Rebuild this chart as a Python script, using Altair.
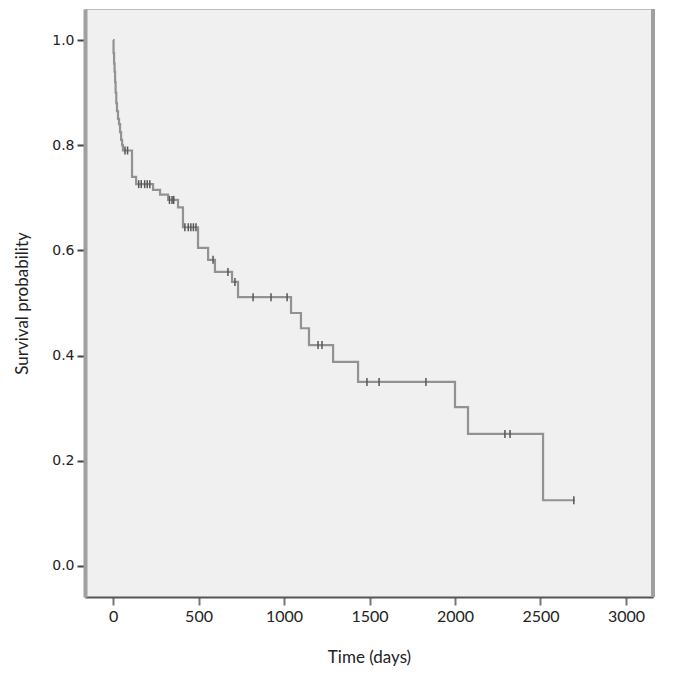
import altair as alt
import pandas as pd

# Kaplan-Meier step curve (time in days, survival probability)
times = [0, 3, 6, 9, 12, 15, 19, 23, 29, 35, 41, 47, 53, 58, 111, 135, 234, 275, 322,
         380, 409, 497, 556, 596, 696, 731, 1041, 1099, 1146, 1287, 1433, 2000, 2076,
         2515, 2700]
surv = [1.0, 0.975, 0.955, 0.94, 0.92, 0.90, 0.88, 0.865, 0.85, 0.84, 0.825, 0.81, 0.80,
        0.79, 0.74, 0.726, 0.715, 0.706, 0.696, 0.682, 0.644, 0.605, 0.582, 0.559, 0.540,
        0.511, 0.481, 0.452, 0.420, 0.388, 0.350, 0.302, 0.251, 0.125, 0.125]

# Censored observations
cens_t = [70, 85, 150, 165, 185, 200, 215, 330, 345, 355, 420, 440, 455, 470, 485,
          585, 672, 713, 819, 924, 1018, 1199, 1222, 1485, 1556, 1830, 2292, 2322, 2695]
cens_s = [0.79, 0.79, 0.726, 0.726, 0.726, 0.726, 0.726, 0.696, 0.696, 0.696, 0.644,
          0.644, 0.644, 0.644, 0.644, 0.582, 0.559, 0.540, 0.511, 0.511, 0.511, 0.420,
          0.420, 0.350, 0.350, 0.350, 0.251, 0.251, 0.125]

x_ticks = [0, 500, 1000, 1500, 2000, 2500, 3000]
y_ticks = [0.0, 0.2, 0.4, 0.6, 0.8, 1.0]

W, H = 568, 588

curve = pd.DataFrame({"t": times, "s": surv})
cens = pd.DataFrame({"t": cens_t, "s": cens_s})

xs = alt.Scale(domain=[-164, 3158], nice=False, zero=False)
ys = alt.Scale(domain=[-0.059, 1.059], nice=False, zero=False)

font = "Lato"

xaxis = alt.Axis(values=x_ticks, format="d", title="Time (days)", grid=False,
                 domainColor="#555555", domainWidth=2,
                 tickColor="#777777", tickWidth=2, tickSize=8,
                 labelFont=font, labelFontSize=16, labelColor="#222222", labelPadding=3,
                 titleFont=font, titleFontSize=17, titleFontWeight="normal",
                 titleColor="#222222", titlePadding=25)
yaxis = alt.Axis(values=y_ticks, format=".1f", title="Survival probability", grid=False,
                 domainColor="#a0a0a0", domainWidth=4,
                 tickColor="#444444", tickWidth=2, tickSize=8,
                 labelFont="DejaVu Sans", labelFontSize=14, labelColor="#222222",
                 labelPadding=3,
                 titleFont=font, titleFontSize=17, titleFontWeight="normal",
                 titleColor="#222222", titlePadding=20)

line = alt.Chart(curve).mark_line(interpolate="step-after", color="#929292",
                                  strokeWidth=2.2).encode(
    x=alt.X("t:Q", scale=xs, axis=xaxis),
    y=alt.Y("s:Q", scale=ys, axis=yaxis),
)

ticks = alt.Chart(cens).mark_point(shape="M0,-1L0,1", size=64, color="#555555",
                                   strokeWidth=1.5, filled=False, opacity=1).encode(
    x=alt.X("t:Q", scale=xs),
    y=alt.Y("s:Q", scale=ys),
)

right = alt.Chart(curve).mark_rule(color="#a0a0a0", strokeWidth=4).encode(
    x=alt.value(W), y=alt.value(0), y2=alt.value(H)
)

chart = alt.layer(line, ticks, right).properties(
    width=W, height=H,
    autosize=alt.AutoSizeParams(type="none"),
    padding={"left": 77, "top": 1, "right": 30, "bottom": 80},
    background="white",
).configure_view(fill="#f0f0f0", stroke="#bdbdbd", strokeWidth=1)

chart.save("out.html", embed_options={"renderer": "svg", "actions": False})
